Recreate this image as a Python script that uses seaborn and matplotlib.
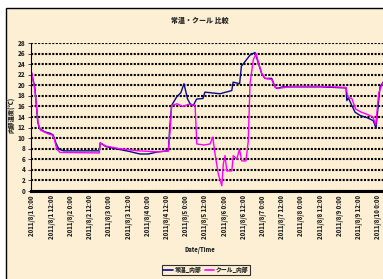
import matplotlib
matplotlib.use("Agg")
import matplotlib.pyplot as plt
import seaborn as sns
import pandas as pd
from matplotlib.patches import Rectangle

sns.set_theme(style="white")
plt.rcParams['font.family'] = ['Noto Sans CJK JP', 'DejaVu Sans']

title = "常温・クール 比較"
ylabel = "内部温度(℃)"
xlabel = "Date/Time"
series_names = ["常温_内部", "クール_内部"]

tick_labels = []
for d in range(1, 11):
    for h in ["0:00", "12:00"]:
        tick_labels.append(f"2011/8/{d} {h}")
tick_labels = tick_labels[:19]

x_blue = [-0.07, 0.1, 0.25, 0.35, 0.6, 0.9, 1.05, 1.2, 1.35, 1.6, 3.45, 3.5, 3.8,
          4.3, 5.0, 5.57, 6.0, 6.5, 7.05, 7.12, 7.22, 7.48, 7.7, 7.86, 8.05, 8.18,
          8.35, 8.52, 8.85, 8.95, 9.74, 10.35, 10.42, 10.76, 10.85, 11.3, 11.56,
          11.91, 12.08, 12.43, 12.6, 12.69, 13.0, 15.0, 16.3, 16.34, 16.42, 16.77,
          17.03, 17.38, 17.72, 17.86, 18.07, 18.23]
y_blue = [22.3, 19.5, 13.0, 11.8, 11.2, 10.9, 10.6, 9.0, 7.9, 7.6, 7.6, 9.1, 8.4,
          8.0, 7.5, 7.0, 7.0, 7.4, 7.6, 12.0, 16.2, 17.8, 18.6, 20.3, 17.4, 16.5,
          16.2, 17.4, 17.5, 18.7, 18.4, 19.0, 20.6, 20.3, 23.6, 25.7, 26.2,
          22.2, 21.3, 21.3, 19.7, 19.4, 19.7, 19.7, 19.5, 17.1, 17.6, 14.9,
          14.3, 13.9, 13.3, 11.9, 19.7, 20.6]

x_mag = [-0.07, 0.1, 0.28, 0.4, 0.8, 1.0, 1.1, 1.23, 1.4, 3.45, 3.5, 3.8, 4.5,
         5.5, 6.5, 7.05, 7.15, 7.22, 7.5, 7.8, 8.1, 8.44, 8.53, 8.9, 9.22, 9.36,
         9.48, 9.65, 9.83, 9.91, 10.0, 10.09, 10.35, 10.43, 10.61, 10.75, 10.87,
         11.09, 11.21, 11.3, 11.47, 11.61, 11.91, 12.08, 12.43, 12.6, 12.75, 13.5,
         15.0, 16.3, 16.4, 16.6, 16.8, 17.1, 17.4, 17.7, 17.85, 18.0, 18.1, 18.23]
y_mag = [22.4, 19.0, 12.5, 11.5, 10.8, 10.6, 10.0, 8.0, 7.3, 7.2, 9.1, 8.5, 8.0,
         7.6, 7.4, 7.6, 12.0, 16.2, 16.5, 16.0, 16.4, 16.2, 8.9, 8.7, 8.9, 10.2,
         7.0, 3.2, 1.0, 5.1, 6.7, 3.8, 3.8, 6.7, 6.0, 7.9, 5.7,
         5.7, 9.5, 20.3, 24.8, 26.0, 22.2, 21.3, 21.1, 19.7, 19.4, 19.8,
         19.8, 19.6, 17.7, 17.5, 15.5, 14.9, 14.5, 14.0, 12.5, 18.5, 19.5, 20.5]

df = pd.concat([
    pd.DataFrame({"t": x_blue, "v": y_blue, "s": series_names[0]}),
    pd.DataFrame({"t": x_mag, "v": y_mag, "s": series_names[1]}),
], ignore_index=True)

W, H = 383, 279
fig = plt.figure(figsize=(W / 100, H / 100), dpi=100)
fig.patch.set_facecolor("white")
cream = "#FCEFD4"
bg = Rectangle((6 / W, -0.1), 1.2, 1 - 8 / H + 0.1, transform=fig.transFigure,
               facecolor=cream, edgecolor="black", linewidth=1.0, zorder=-10)
fig.patches.append(bg)

ax = fig.add_axes([31 / W, (H - 191) / H, (400 - 31) / W, (191 - 43) / H])
ax.set_facecolor("none")
ax.set_zorder(1)

sns.lineplot(data=df, x="t", y="v", hue="s", palette={series_names[0]: "#0A0A8C", series_names[1]: "#FF00FF"},
             sort=False, estimator=None, linewidth=1.0, ax=ax, legend=True)

ax.set_xlim(-0.104, 19.11)
ax.set_ylim(0, 28)
ax.set_yticks(range(0, 29, 2))
ax.set_yticklabels([str(v) for v in range(0, 29, 2)], fontsize=4.5, fontweight="heavy")
ax.set_xticks(range(19))
ax.set_xticklabels(tick_labels, rotation=90, fontsize=4.3, fontweight="heavy")
ax.tick_params(axis="x", length=0, pad=3)
ax.tick_params(axis="y", length=2, width=0.6, pad=2, left=True)
ax.yaxis.grid(True, linestyle=(0, (1, 0.7)), color="black", linewidth=1.5)
ax.xaxis.grid(False)
ax.set_axisbelow(True)
for s in ["top", "right"]:
    ax.spines[s].set_visible(False)
ax.spines["left"].set_color("black")
ax.spines["left"].set_linewidth(0.8)
ax.spines["bottom"].set_color("black")
ax.spines["bottom"].set_linewidth(2.2)
ax.set_xlabel("")
ax.set_ylabel("")

fig.text(200 / W, 1 - 20 / H, title, ha="center", va="center", fontsize=5, fontweight="heavy")
fig.text(200 / W, 1 - 250 / H, xlabel, ha="center", va="center", fontsize=4.2, fontweight="heavy")
fig.text(12 / W, 1 - 115 / H, ylabel, ha="center", va="center", rotation=90, fontsize=4.5, fontweight="heavy")

leg = ax.legend(loc="center", bbox_to_anchor=(206 / W, 1 - 270 / H), bbox_transform=fig.transFigure,
                ncol=2, frameon=True, fancybox=False, handlelength=1.6,
                columnspacing=0.6, handletextpad=0.3, borderpad=0.3, prop={"weight": "heavy", "size": 4.2})
leg.get_frame().set_edgecolor("black")
leg.get_frame().set_linewidth(0.8)
leg.get_frame().set_facecolor(cream)
for l in leg.get_lines():
    l.set_linewidth(1.2)

fig.savefig("out.png", dpi=100)
